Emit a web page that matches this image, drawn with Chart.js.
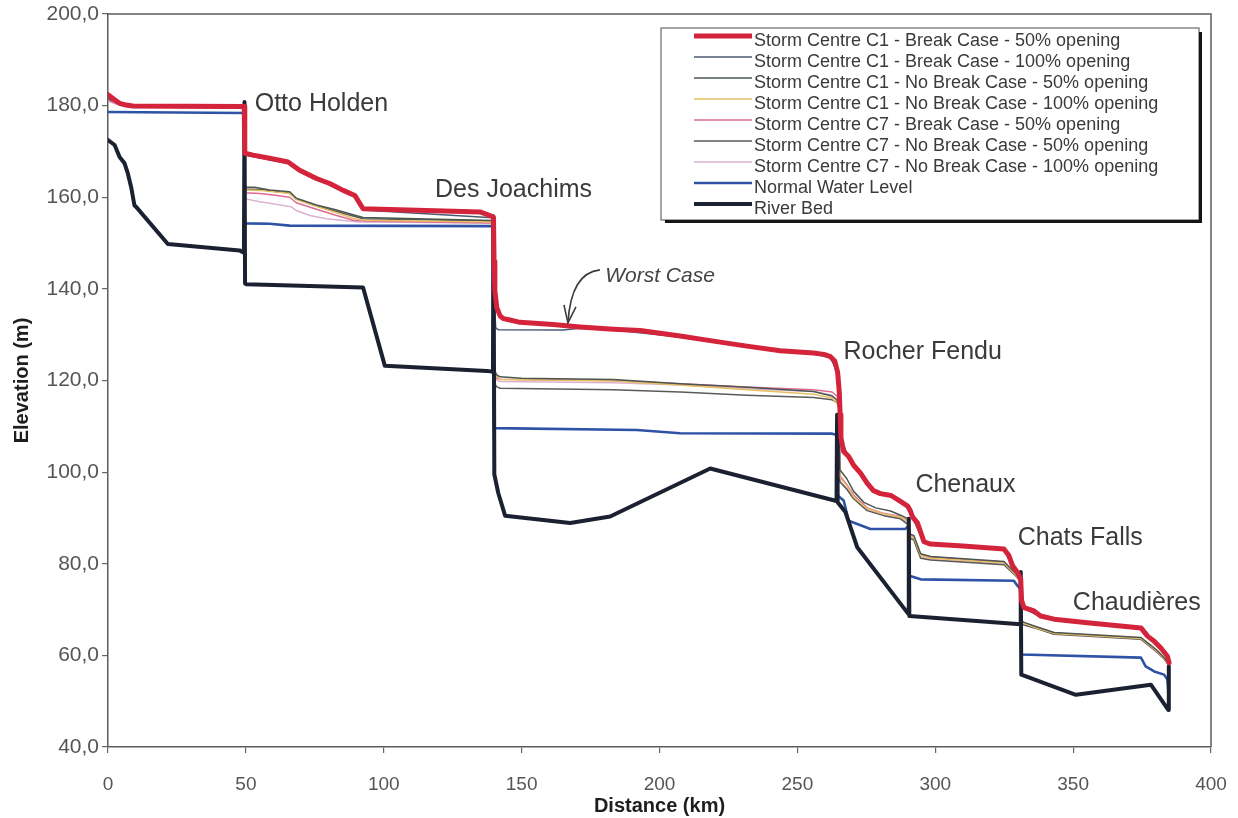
<!DOCTYPE html>
<html>
<head>
<meta charset="utf-8">
<title>Ottawa River – Elevation profile</title>
<script src="https://cdn.jsdelivr.net/npm/chart.js@4.4.1/dist/chart.umd.min.js"></script>
<style>
  html, body { margin: 0; padding: 0; background: #ffffff; }
  #wrap { width: 1238px; height: 818px; position: relative; }
</style>
</head>
<body>
<div id="wrap"><canvas id="profile" width="1238" height="818"></canvas></div>
<script>
// ---- Series names (legend order) ----
const seriesLabels = [
  'Storm Centre C1 - Break Case - 50% opening',
  'Storm Centre C1 - Break Case - 100% opening',
  'Storm Centre C1 - No Break Case - 50% opening',
  'Storm Centre C1 - No Break Case - 100% opening',
  'Storm Centre C7 - Break Case - 50% opening',
  'Storm Centre C7 - No Break Case - 50% opening',
  'Storm Centre C7 - No Break Case - 100% opening',
  'Normal Water Level',
  'River Bed'
];

// ---- Axis ticks ----
const distanceTicks = [0, 50, 100, 150, 200, 250, 300, 350, 400];
const elevationTicks = [40, 60, 80, 100, 120, 140, 160, 180, 200];

// ---- Profiles: [distance km, elevation m] ----
const c1Break50 = [
  [0,182.4],[2.4,181.3],[4.2,180.5],[6.0,180.2],[9.0,179.9],[49.4,179.8],
  [49.6,169.6],[52.6,169.2],[58.6,168.5],[65.3,167.7],[69.5,165.9],[75.6,164.1],[80.4,163.0],
  [85.3,161.5],[89.5,160.4],[92.5,157.5],[134.9,156.8],[139.5,155.8],
  [139.8,155.4],[140.0,146.0],[140.3,139.6],[141.0,135.9],[142.2,134.1],[143.5,133.5],[145.8,133.2],
  [149.4,132.7],[161.4,132.2],[171.2,131.7],[183.3,131.2],[193.0,130.9],[207.5,129.7],[219.6,128.6],
  [231.7,127.5],[243.8,126.5],[255.9,126.0],[259.6,125.7],[262.0,125.2],[263.6,124.2],[264.6,121.8],
  [265.2,117.5],[265.5,112.5],[265.8,107.5],[266.8,104.5],[268.6,103.4],[270.4,101.5],[272.9,99.8],
  [275.3,97.6],[277.5,96.0],[280.1,95.3],[284.0,94.9],[287.4,93.6],[290.0,92.6],[291.0,91.5],
  [291.8,90.2],[293.5,89.0],[295.9,84.8],[298.3,84.3],[310.0,83.9],[324.9,83.2],[326.7,81.8],
  [328.0,79.6],[329.8,78.1],[331.0,76.6],[331.3,72.0],[332.2,70.4],[335.8,69.7],[338.2,68.6],
  [343.1,67.9],[355.2,67.1],[374.6,66.0],[377.0,64.2],[379.4,63.1],[381.8,61.6],[384.2,59.8],[384.8,58.4]
];

const c1Break100 = [
  [0,182.0],[3.0,180.8],[6.0,180.0],[9.0,179.7],[49.4,179.6],
  [49.6,169.2],[58.6,168.2],[65.3,167.4],[69.5,165.6],[75.6,163.8],[80.4,162.7],[85.3,161.2],
  [89.5,160.1],[92.5,157.2],[139.5,155.5],
  [139.8,155.2],[140.1,137.0],[140.6,131.5],[141.5,131.1],[165.0,131.0],[171.2,131.4],[183.3,131.0],
  [207.5,129.5],[231.7,127.3],[255.9,125.8],[262.0,125.0],[264.6,121.6],[265.5,112.3],[265.8,107.3],
  [268.6,103.2],[272.9,99.6],[277.5,95.8],[284.0,94.7],[290.0,92.4],[291.8,90.0],[295.9,84.6],
  [324.9,83.0],[328.0,79.4],[331.0,76.4],[332.2,70.2],[338.2,68.4],[355.2,66.9],[374.6,65.8],
  [379.4,62.9],[384.2,59.6],[384.8,58.2]
];

const c1NoBreak50 = [
  [0,181.6],[3.0,180.8],[6.0,180.0],[9.0,179.8],[49.4,179.7],
  [49.6,162.2],[53.2,162.2],[58.6,161.6],[65.9,161.2],[68.3,159.8],[75.6,158.3],[82.9,157.2],
  [88.9,156.2],[92.5,155.6],[139.5,154.9],
  [139.8,154.7],[140.0,122.5],[141.0,121.2],[142.2,120.8],[150.0,120.5],[183.3,120.2],[207.5,119.3],
  [231.7,118.5],[255.9,117.6],[262.6,116.6],[264.4,115.8],[265.0,114.0],
  [265.4,100.5],[268.0,98.5],[270.4,95.8],[274.1,93.4],[278.4,92.2],[283.8,91.5],[287.4,90.6],[290.3,89.8],
  [290.8,86.5],[292.2,86.2],[294.7,82.2],[298.3,81.6],[324.9,80.5],[327.3,79.0],[329.8,77.5],[331.0,76.5],
  [331.3,67.5],[332.2,67.2],[337.0,66.2],[343.1,65.0],[374.6,63.9],[378.2,62.2],[380.6,61.0],[383.0,59.5],[384.8,58.0]
];

const c1NoBreak100 = [
  [0,181.8],[3.0,181.0],[6.0,180.1],[9.0,179.8],[49.4,179.6],
  [49.6,161.6],[55.0,161.5],[60.0,161.2],[65.9,160.8],[68.3,159.5],[75.6,158.0],[82.9,156.6],
  [88.9,155.4],[92.5,155.0],[139.5,154.6],
  [139.8,154.4],[140.0,121.8],[140.5,121.2],[142.2,120.2],[183.3,119.9],[207.5,119.0],[231.7,118.0],
  [255.9,117.0],[262.6,116.2],[265.0,114.5],
  [265.4,98.8],[268.0,97.0],[270.4,94.6],[275.3,92.0],[281.3,90.9],[287.4,90.2],[290.3,89.2],
  [290.8,86.0],[292.2,85.8],[294.7,81.8],[298.3,81.2],[324.9,80.2],[327.3,78.7],[329.8,77.2],[331.0,76.2],
  [331.3,67.2],[332.2,67.0],[337.0,65.9],[343.1,64.8],[374.6,63.7],[378.2,62.0],[380.6,60.8],[383.0,59.3],[384.8,57.9]
];

const c7Break50 = [
  [0,181.2],[3.0,180.5],[6.0,179.9],[9.0,179.7],[49.4,179.5],
  [49.6,161.0],[55.0,160.8],[60.0,160.5],[65.9,160.0],[68.3,158.8],[75.6,157.4],[82.9,156.0],
  [88.9,155.0],[92.5,154.8],[139.5,154.4],
  [139.8,154.2],[140.0,121.0],[141.0,120.5],[142.2,120.3],[183.3,120.0],[207.5,119.3],[231.7,118.6],
  [255.9,118.0],[262.6,117.5],[264.5,116.5],[265.2,113.0],
  [265.4,99.2],[268.0,97.2],[270.4,95.0],[275.3,92.2],[281.3,91.0],[287.4,90.3],[290.3,89.4],
  [290.8,86.2],[292.2,86.0],[294.7,82.0],[298.3,81.5],[324.9,80.4],[327.3,78.9],[329.8,77.4],[331.0,76.4],
  [331.3,67.4],[332.2,67.1],[337.0,66.1],[343.1,64.9],[374.6,63.8],[378.2,62.1],[380.6,60.9],[383.0,59.4],[384.8,58.0]
];

const c7NoBreak50 = [
  [0,181.4],[3.0,180.6],[6.0,179.9],[9.0,179.7],[49.4,179.6],
  [49.6,161.8],[55.0,161.7],[60.0,161.3],[65.9,160.9],[68.3,159.6],[75.6,158.1],[82.9,156.9],
  [88.9,155.9],[92.5,155.3],[139.5,154.8],
  [139.8,154.6],[140.0,119.5],[141.0,118.6],[142.2,118.3],[183.3,118.0],[207.5,117.5],[231.7,116.8],
  [255.9,116.3],[262.6,115.8],[265.0,115.0],
  [265.4,97.9],[268.0,96.2],[270.4,94.2],[275.3,91.6],[281.3,90.5],[287.4,89.8],[290.6,88.3],
  [291.0,85.5],[292.2,85.2],[294.7,81.2],[298.3,80.8],[324.9,79.8],[327.3,78.4],[329.8,77.0],[331.0,76.0],
  [331.3,66.8],[332.2,66.6],[337.0,65.8],[343.1,64.6],[374.6,63.5],[378.2,61.8],[380.6,60.6],[383.0,59.2],[384.8,57.8]
];

const c7NoBreak100 = [
  [0,181.0],[3.0,180.3],[6.0,179.8],[9.0,179.6],[49.4,179.4],
  [49.6,159.7],[55.0,159.0],[59.8,158.6],[66.5,157.9],[68.3,157.1],[73.2,156.0],[79.2,155.3],
  [85.3,154.9],[91.3,154.6],[139.5,154.4],
  [139.8,154.2],[140.0,120.6],[141.0,120.1],[142.2,119.8],[183.3,119.5],[207.5,119.0],[231.7,118.2],
  [255.9,117.6],[262.6,116.8],[265.0,115.0],
  [265.4,98.0],[268.0,96.4],[270.4,94.4],[275.3,91.8],[281.3,90.7],[287.4,90.0],[290.4,88.8],
  [290.8,85.8],[292.2,85.6],[294.7,81.5],[298.3,81.0],[324.9,80.0],[327.3,78.6],[329.8,77.1],[331.0,76.1],
  [331.3,67.0],[332.2,66.8],[337.0,65.9],[343.1,64.7],[374.6,63.6],[378.2,61.9],[380.6,60.7],[383.0,59.3],[384.8,57.9]
];

const normalWater = [
  [0,178.6],[49.4,178.4],[49.6,154.3],[58.6,154.2],[65.9,153.8],[139.5,153.7],[139.9,109.6],
  [191.8,109.2],[207.5,108.5],[262.6,108.4],[263.8,108.2],[264.4,108.1],[264.6,94.9],[266.8,93.8],
  [268.6,89.4],[276.5,87.6],[289.2,87.6],[290.4,88.3],[290.6,77.4],[294.7,76.6],[328.5,76.3],
  [329.8,75.2],[331.0,74.4],[331.2,60.2],[374.6,59.5],[376.3,57.6],[379.4,56.5],[383.0,55.8],
  [384.2,54.7],[384.6,51.8]
];

const riverBed = [
  [0,172.5],[2.4,171.4],[4.2,168.8],[6.0,167.4],[7.2,165.2],[8.4,162.2],[9.6,158.2],[10.2,157.9],
  [21.7,149.8],[47.7,148.4],[49.3,147.9],[49.5,180.8],[49.7,141.2],[50.2,141.0],[92.5,140.3],
  [100.4,123.2],[137.4,122.1],[139.6,121.9],[139.8,155.8],[140.1,99.5],[141.5,95.5],[144.0,90.5],
  [167.6,88.9],[182.1,90.3],[218.4,100.8],[264.2,93.7],[264.4,112.5],[264.6,93.4],[267.4,91.3],
  [271.7,83.6],[290.3,69.0],[290.4,89.8],[290.6,68.6],[330.9,66.8],[331.0,78.2],[331.2,55.8],
  [351.0,51.4],[378.2,53.6],[384.5,48.1],[384.7,57.6]
];

const seriesData = [c1Break50, c1Break100, c1NoBreak50, c1NoBreak100, c7Break50, c7NoBreak50, c7NoBreak100, normalWater, riverBed];

// ---- Line styles (same order as the series) ----
const lineColors = ['#d3243b', '#4a5872', '#4b5750', '#e7bf62', '#df6b93', '#5a5a5a', '#d9b2d2', '#2d52a6', '#1b2130'];
const lineWidths = [5, 1.5, 1.5, 1.5, 1.5, 1.5, 1.5, 2.6, 4];
const drawOrder  = [0, 2, 3, 3, 3, 3, 3, 2, 1];

const FONT = "'Liberation Sans', Arial, Helvetica, sans-serif";

// dam names and where they are written (km, m)
const damNames = ['Otto Holden', 'Des Joachims', 'Rocher Fendu', 'Chenaux', 'Chats Falls', 'Chaudières'];
const damLabelAnchors = [[53.2, 180.3], [118.6, 161.6], [266.7, 126.2], [292.8, 97.2], [329.9, 85.6], [349.9, 71.4]];

function valueAt(arr, x) {
  for (let i = 1; i < arr.length; i++) {
    if (arr[i][0] >= x) {
      const [x0, y0] = arr[i - 1], [x1, y1] = arr[i];
      return y0 + (y1 - y0) * (x - x0) / (x1 - x0);
    }
  }
  return arr[arr.length - 1][1];
}

// top and right edges of the plot frame
const framePlugin = {
  id: 'frame',
  beforeDatasetsDraw(chart) {
    const { ctx, chartArea: a } = chart;
    ctx.save();
    ctx.strokeStyle = '#5c5c5c';
    ctx.lineWidth = 1.5;
    ctx.beginPath();
    ctx.moveTo(a.left, a.top);
    ctx.lineTo(a.right, a.top);
    ctx.lineTo(a.right, a.bottom);
    ctx.stroke();
    ctx.restore();
  }
};

// dam names and the "Worst Case" pointer
const notesPlugin = {
  id: 'notes',
  afterDatasetsDraw(chart) {
    const { ctx, scales: { x, y } } = chart;
    ctx.save();
    ctx.fillStyle = '#3a3a3a';
    ctx.font = `25px ${FONT}`;
    ctx.textAlign = 'left';
    ctx.textBaseline = 'middle';
    damNames.forEach((name, i) => {
      const [km, m] = damLabelAnchors[i];
      ctx.fillText(name, x.getPixelForValue(km), y.getPixelForValue(m));
    });

    // Worst Case note
    ctx.font = `italic 21px ${FONT}`;
    ctx.fillStyle = '#444';
    ctx.fillText('Worst Case', x.getPixelForValue(180.3), y.getPixelForValue(142.8));

    const tipKm = 166.8;
    const tx = x.getPixelForValue(tipKm);
    const ty = y.getPixelForValue(valueAt(c1Break50, tipKm)) - 3;
    ctx.strokeStyle = '#3d3d3d';
    ctx.lineWidth = 1.6;
    ctx.beginPath();
    ctx.moveTo(tx + 32, ty - 53);
    ctx.quadraticCurveTo(tx + 3, ty - 50, tx, ty);
    ctx.stroke();
    ctx.beginPath();
    ctx.moveTo(tx - 4, ty - 18);
    ctx.lineTo(tx, ty);
    ctx.lineTo(tx + 8, ty - 16);
    ctx.stroke();
    ctx.restore();
  }
};

// boxed legend inside the plot
const legendPlugin = {
  id: 'boxLegend',
  afterDraw(chart) {
    const { ctx } = chart;
    const box = { left: 661, top: 28, right: 1199, bottom: 220 };
    const rowH = 21, firstRow = 41;
    ctx.save();
    ctx.fillStyle = '#ffffff';
    ctx.fillRect(box.left, box.top, box.right - box.left, box.bottom - box.top);
    ctx.strokeStyle = '#6a6a6a';
    ctx.lineWidth = 1.2;
    ctx.strokeRect(box.left, box.top, box.right - box.left, box.bottom - box.top);
    // drop shadow on right and bottom
    ctx.strokeStyle = '#151515';
    ctx.lineWidth = 3;
    ctx.beginPath();
    ctx.moveTo(box.right + 1.5, box.top + 4);
    ctx.lineTo(box.right + 1.5, box.bottom + 1.5);
    ctx.lineTo(box.left + 4, box.bottom + 1.5);
    ctx.stroke();

    ctx.font = `18px ${FONT}`;
    ctx.textAlign = 'left';
    ctx.textBaseline = 'middle';
    chart.data.datasets.forEach((ds, i) => {
      const cy = firstRow + i * rowH;
      ctx.strokeStyle = ds.borderColor;
      ctx.lineWidth = ds.borderWidth;
      ctx.lineCap = 'butt';
      ctx.beginPath();
      ctx.moveTo(694, cy - 5);
      ctx.lineTo(752, cy - 5);
      ctx.stroke();
      ctx.fillStyle = '#3a3a3a';
      ctx.fillText(ds.label, 754, cy);
    });
    ctx.restore();
  }
};

const datasets = seriesData.map((arr, i) => ({
  label: seriesLabels[i],
  data: arr.map(([x, y]) => ({ x, y })),
  borderColor: lineColors[i],
  backgroundColor: lineColors[i],
  borderWidth: lineWidths[i],
  order: drawOrder[i],
  fill: false,
  pointRadius: 0,
  tension: 0
}));

new Chart(document.getElementById('profile'), {
  type: 'line',
  data: { datasets },
  options: {
    responsive: false,
    animation: false,
    devicePixelRatio: 1,
    layout: { padding: { left: 0, right: 27, top: 14, bottom: 0 } },
    elements: { line: { borderJoinStyle: 'round', borderCapStyle: 'round' } },
    plugins: { legend: { display: false }, tooltip: { enabled: false } },
    scales: {
      x: {
        type: 'linear',
        min: 0, max: 400,
        afterBuildTicks(s) { s.ticks = distanceTicks.map(v => ({ value: v })); },
        afterFit(s) { s.height = 71; s.paddingLeft = 0; s.paddingRight = 0; },
        ticks: { color: '#555', font: { family: FONT, size: 19 }, padding: 20, maxRotation: 0, autoSkip: false },
        grid: { drawOnChartArea: false, drawTicks: true, tickLength: 6, color: '#666', lineWidth: 1.2 },
        border: { color: '#5c5c5c', width: 1.5 },
        title: { display: true, text: 'Distance (km)', color: '#1e1e1e',
                 font: { family: FONT, size: 20, weight: 'bold' }, padding: { top: 0, bottom: 0 } }
      },
      y: {
        min: 40, max: 200,
        afterBuildTicks(s) { s.ticks = elevationTicks.map(v => ({ value: v })); },
        afterFit(s) { s.width = 108; s.paddingTop = 0; s.paddingBottom = 0; },
        ticks: { color: '#555', font: { family: FONT, size: 21 }, padding: 3,
                 callback: v => v.toFixed(1).replace('.', ',') },
        grid: { drawOnChartArea: false, drawTicks: true, tickLength: 6, color: '#666', lineWidth: 1.2 },
        border: { color: '#5c5c5c', width: 1.5 },
        title: { display: true, text: 'Elevation (m)', color: '#1e1e1e',
                 font: { family: FONT, size: 20, weight: 'bold' }, padding: { top: 10, bottom: 0 } }
      }
    }
  },
  plugins: [framePlugin, notesPlugin, legendPlugin]
});
</script>
</body>
</html>
